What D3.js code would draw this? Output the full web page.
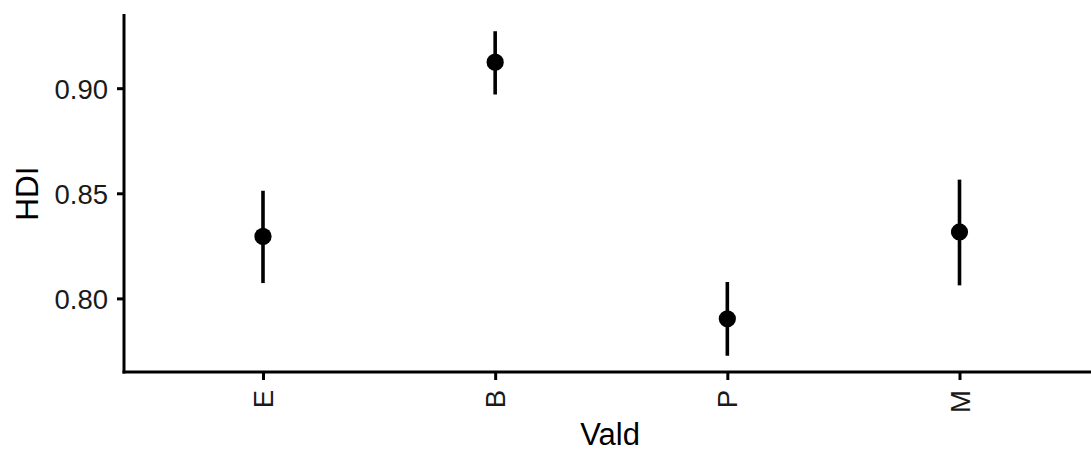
<!DOCTYPE html>
<html>
<head>
<meta charset="utf-8">
<script src="https://cdn.jsdelivr.net/npm/d3@7"></script>
<style>
  html, body { margin: 0; padding: 0; background: #fff; }
  svg { display: block; }
  text { font-family: "Liberation Sans", Arial, sans-serif; }
</style>
</head>
<body>
<svg id="chart" width="1091" height="452"></svg>
<script>
const categories = ["E", "B", "P", "M"];
const means = [0.8295, 0.9124, 0.7903, 0.8316];
const lower = [0.8073, 0.8970, 0.7727, 0.8062];
const upper = [0.8512, 0.9271, 0.8078, 0.8565];
const yTicks = [0.80, 0.85, 0.90];
const xTitle = "Vald";
const yTitle = "HDI";

const W = 1091, H = 452;
const panel = { left: 124, right: 1091, top: 15, bottom: 372 };
const svg = d3.select("#chart");

const lo = d3.min(lower), hi = d3.max(upper);
const pad = (hi - lo) * 0.05;
const y = d3.scaleLinear().domain([lo - pad, hi + pad]).range([panel.bottom, panel.top]);
const x = d3.scalePoint().domain(categories).range([263, 959.5]);

const data = categories.map((c, i) => ({ c, m: means[i], lo: lower[i], hi: upper[i] }));

// error bars
svg.append("g").selectAll("line").data(data).join("line")
  .attr("x1", d => x(d.c)).attr("x2", d => x(d.c))
  .attr("y1", d => y(d.lo)).attr("y2", d => y(d.hi))
  .attr("stroke", "#000").attr("stroke-width", 3.6);

// points
svg.append("g").selectAll("circle").data(data).join("circle")
  .attr("cx", d => x(d.c)).attr("cy", d => y(d.m))
  .attr("r", 8.6).attr("fill", "#000");

const tickFont = "27.5px";

// y axis
const yAxis = svg.append("g").attr("transform", `translate(${panel.left},0)`)
  .call(d3.axisLeft(y).tickValues(yTicks).tickFormat(d3.format(".2f")).tickSize(7).tickPadding(9));
yAxis.select(".domain").remove();
yAxis.append("line").attr("x1", 0).attr("x2", 0).attr("y1", 14).attr("y2", panel.bottom + 1.5)
  .attr("stroke", "#000").attr("stroke-width", 3);
yAxis.selectAll(".tick line").attr("stroke", "#000").attr("stroke-width", 3);
yAxis.selectAll(".tick text").attr("fill", "#1a1a1a").style("font-size", tickFont)
  .style("font-family", "'Liberation Sans', Arial, sans-serif").attr("dy", "0.36em");

// x axis
const xAxis = svg.append("g").attr("transform", `translate(0,${panel.bottom})`)
  .call(d3.axisBottom(x).tickSize(8).tickPadding(0));
xAxis.select(".domain").remove();
xAxis.append("line").attr("x1", panel.left - 1.5).attr("x2", panel.right).attr("y1", 0).attr("y2", 0)
  .attr("stroke", "#000").attr("stroke-width", 3);
xAxis.selectAll(".tick line").attr("stroke", "#000").attr("stroke-width", 3);
xAxis.selectAll(".tick text")
  .attr("fill", "#1a1a1a").style("font-size", tickFont)
  .style("font-family", "'Liberation Sans', Arial, sans-serif")
  .attr("text-anchor", "end")
  .attr("transform", "translate(0,18) rotate(-90)")
  .attr("x", 0).attr("y", 0).attr("dy", "0.35em");

// titles
svg.append("text").attr("x", 610).attr("y", 445)
  .attr("text-anchor", "middle").style("font-size", "31px").attr("fill", "#000").text(xTitle);
svg.append("text").attr("transform", `translate(38,${(panel.top + panel.bottom) / 2}) rotate(-90)`)
  .attr("text-anchor", "middle").style("font-size", "31.5px").attr("fill", "#000").text(yTitle);
</script>
</body>
</html>
